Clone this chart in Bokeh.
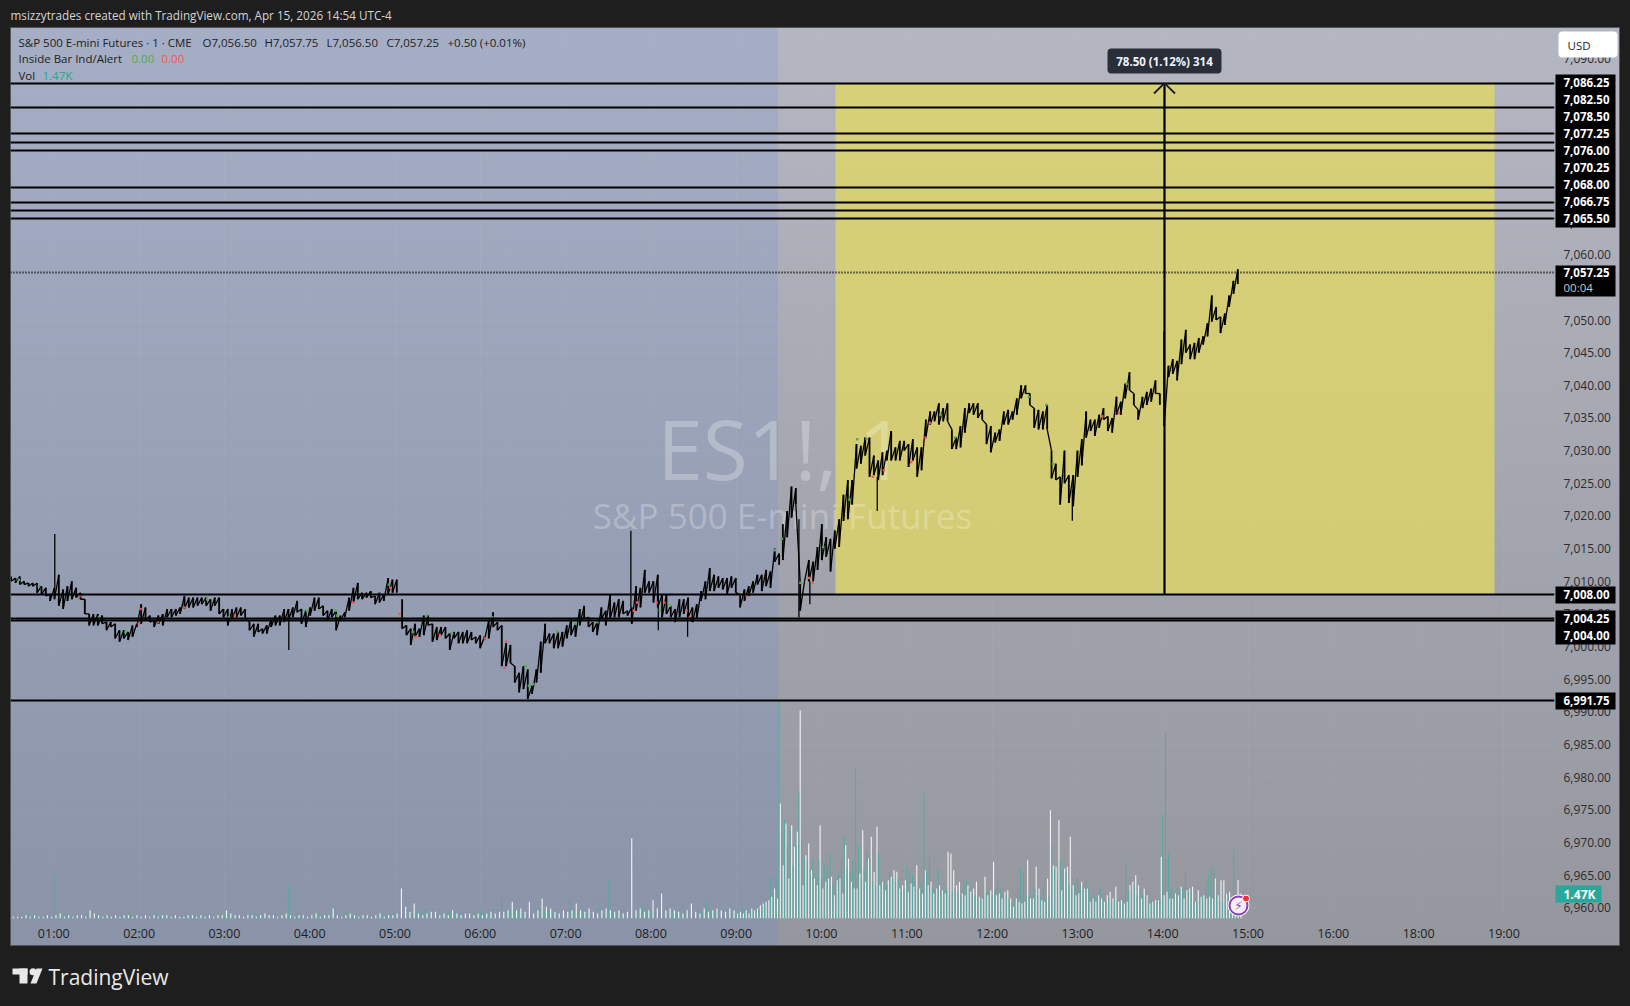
from bokeh.plotting import figure
from bokeh.embed import file_html
from bokeh.resources import INLINE
from bokeh.core.properties import value
from bokeh.models import FixedTicker, NumeralTickFormatter, Range1d

# ---------- price data, sampled every ~3 minutes, four stretches ----------
seg1_start, seg2_start, seg3_start, seg4_start = 30.0, 305.0, 572.8, 841.0
seg1_high = [7010.75,7010.5,7010.75,7010,7009.75,7009.75,7009.75,7009.25,7009,7008,7009,7011,7008.75,7009.25,7010,7009,7008.25,7007.25,7005,7005,7005,7004.75,7003.75,7003.75,7003.5,7002.5,7002.5,7002.25,7003.25,7003.5,7006.5,7006,7004.75,7004,7004.75,7005,7005.75,7005.75,7005.75,7006,7007.75,7007.5,7007.5,7007.5,7007.5,7007.5,7007.25,7007.5,7007.5,7005.75,7005.75,7005.75,7006,7006,7005.75,7003.75,7003.5,7003.5,7002.75,7003.25,7004.25,7004.75,7004.75,7005.75,7005.75,7006,7007,7005.75,7005.5,7006,7007.5,7007.5,7006.25,7005.5,7005.75,7005.5,7004.75,7005.25,7007.5,7009,7009.75,7008.25,7008.25,7008.5,7007.75,7008.25,7008,7010.5,7010.25,7010.25]
seg1_low = [7010,7009.75,7009.5,7009.5,7009.25,7009.25,7008.25,7008,7007.75,7007,7007.25,7006.25,7005.75,7007,7007.25,7007.5,7007.25,7005,7003.25,7003.25,7003.25,7003.5,7002.5,7003,7001.25,7000.75,7001.25,7001,7001.5,7003,7003.5,7004,7003.75,7003,7003.5,7003.25,7004.5,7004.5,7004.75,7005,7005.75,7006,7006,7006.25,7006.5,7006.25,7005.5,7006.25,7005,7004.5,7003.25,7004.25,7004.5,7004.75,7004.5,7002.5,7001.5,7002.25,7002,7002,7003,7003.25,7003.25,7003.75,7004,7004.5,7005.25,7003.5,7003,7004.75,7005.5,7005.75,7004.75,7004,7004.5,7002.5,7004,7004.5,7005.5,7006.75,7007.25,7007.25,7007.5,7007.5,7006.5,7006.75,7007,7008,7008.25,7008.25]
seg2_high = [7007.25,7003.25,7002.75,7003.5,7002.75,7004.75,7004.75,7003.5,7003,7003,7003,7002,7002.25,7002.25,7002.25,7002.5,7002.25,7001.5,7001.75,7001.5,7004,7005.25,7003.75,7003.25,7000.5,7000.25,6997,6996,6997,6996.5,6994,6996.5,7000.75,7003.5,7002,7002,7002.25,7002.25,7003.25,7004.25,7003.5,7005.75,7006.25,7004.5,7003.75,7003.75,7006,7005.5,7008,7006.75,7007.25,7007,7005.5,7006,7009.25,7009,7011.75,7010,7010,7011,7008,7008,7006.25,7005.75,7007.25,7007.25,7007.5,7006,7006.5,7008.5,7010,7012,7011,7010.75,7010.5,7010.5,7010.75,7010.5,7008,7008.75,7009.25,7010,7011,7011,7011.75,7011.5,7015,7014.25]
seg2_low = [7002.75,7001.75,7000.25,7001.5,7001.5,7001.75,7003.25,7000.75,7001,7001.75,7001.25,6999.5,7001.25,7000.5,7000.5,7000.5,7001,7000.5,6999.75,7001,7001.25,7003,7002.5,6997,6997,6997.5,6994.5,6993,6993.5,6992,6992.75,6994.5,6996,7000.5,7000.5,6999.75,6999.75,7000,7001.25,7001.75,7001.5,7003.25,7004.25,7003,7002.25,7001.75,7004.25,7003.25,7004.25,7004.5,7004.5,7005,7004.75,7003.5,7005.5,7006,7008.25,7008.25,7006.75,7006,7004.5,7005,7004.5,7003.75,7004.5,7005,7004.5,7003.75,7004.25,7007,7007.25,7008.5,7008.5,7009,7008.75,7008,7009,7008.25,7006,7007,7007.75,7008.25,7009.5,7008.5,7009.25,7009,7013,7012.5]
seg3_high = [7018.75,7020.75,7024.5,7024.25,7010,7010,7013.25,7013,7015.25,7018.75,7016.75,7016.5,7017.75,7019.5,7023.25,7025.5,7025.5,7031,7030.75,7032,7032,7029.25,7028.5,7029.75,7030,7033,7030.5,7031.5,7031.5,7031,7031.75,7030.5,7030.5,7034.75,7036,7036,7037.25,7036.5,7037.25,7033.25,7032,7033.75,7036.5,7037.25,7037.25,7037.25,7036.25,7034,7033.75,7032.75,7033.25,7036,7036.25,7036,7038,7040,7040,7038.75,7036.5,7036.25,7036,7037,7030,7028,7026,7030,7026.25,7026.25,7030,7031.75,7036,7034.75,7034.75,7035.5,7036.5,7035.25,7035,7038.25,7037.5,7040.25,7042,7038.75,7036.25,7038.25,7039,7039.5,7040.75,7038.75]
seg3_low = [7013.25,7016.75,7019.75,7021.75,7005.5,7010,7010,7010,7011.75,7013.25,7013.75,7011.5,7015,7015.25,7019.25,7019.5,7021.75,7027.25,7028,7029.25,7026,7026.25,7025.5,7026.25,7028.5,7028.5,7028.5,7028.5,7030,7027.5,7028.5,7026,7027,7032,7034,7034.5,7034,7034.5,7034.5,7030.25,7030.25,7030.5,7032.75,7035.75,7035.5,7035,7034.75,7031,7029.75,7031.25,7031.5,7034,7034,7034.75,7035.5,7038,7038.75,7037,7033.5,7033.25,7033.25,7033.25,7025.75,7025.5,7021.75,7025,7022,7021.5,7026,7027.75,7032,7033,7032.25,7033.5,7034.75,7033,7032.75,7035.5,7035.5,7038,7039.25,7037,7034.75,7036.5,7037,7037.5,7038.75,7037]
seg4_high = [7048.25,7043,7044,7043.75,7047,7048.5,7046.25,7046.5,7047.25,7047.5,7049.5,7053.75,7052,7050.5,7051,7053.75,7056,7057.75]
seg4_low = [7033.75,7041.25,7041.75,7040.75,7043.25,7045,7044,7044,7045,7046.25,7047.5,7049.75,7050,7048,7049.25,7052,7054,7055.5]

# lone wicks: minute, high, low
wick_min = [60.7, 225.3, 465.9, 485.2, 505.8, 584.1, 591.8, 639.2, 776.4]
wick_high = [7017.25, 7005, 7017.75, 7008, 7005, 7019.5, 7010, 7026, 7024]
wick_low = [7009, 6999.5, 7006, 7002.5, 7001.5, 7004.5, 7006.5, 7020.75, 7019.25]

# inside-bar indicator marks
green_min = [35.4,49.5,91.7,110.4,167.9,183.1,213.6,238.2,258.2,259.3,295.7,312.6,322.2,340.2,368.4,414.1,423,427,391.8,394.2,397,442.3,486.3,493.4,542.6,567.2,572,585.2,601.2,619.7,625.1,631.7,683.7,693.8,745.9,758.1,762.8,814.6]
green_price = [7010.25,7009.25,7004.5,7002.25,7007.25,7004.5,7004.25,7005.5,7005.5,7004.75,7009.5,7002.25,7004.75,7002,7004.5,7002.25,7004.25,7003.5,6997,6994,6994.25,7003.75,7005.5,7006.25,7008,7014.75,7016.5,7009.75,7015.25,7022.5,7031.75,7031.75,7035.5,7032,7038.25,7037,7028,7040.25]
red_min = [78.1,121,119.8,133.4,151.9,187.4,270.6,296.9,303.2,314.5,331.6,363.2,378.2,377.1,468,470.4,484,489.2,504.9,507.5,547.3,591.1,593.9,636.1,643.9,663.1,673.2,676.2,797.5,809.2]
red_price = [7007.75,7005.75,7003.5,7003.75,7006,7004.75,7006.75,7009,7005,7001.5,7001.75,7001.25,7000.75,6996.75,7005.5,7006.75,7006.75,7006.75,7005.5,7004.5,7007.75,7010.5,7009.75,7026,7027,7028.25,7032,7034.25,7035.25,7035.75]

# ---------- levels ----------
levels_thin = [7086.25,7082.5,7078.5,7077.25,7076,7070.25,7068,7066.75,7065.5,7008,6991.75]
levels_thick = [7004.25,7004]
last_price = 7057.25

# ---------- volume, in hundreds of contracts ----------
vol_teal_early = [1,1,2,1,2,1,2,2,1,2,30,3,2,2,1,2,1,2,3,2,2,1,2,2,1,2,1,2,3,2,1,2,2,1,2,1,2,2,1,2,2,1,2,1,2,2,3,2,1,2,2,3,2,1,2,3,2,1,2,2,2,1,3,2,2,21,2,3,2,1,2,2,3,2,2,3,8,2,3,4,2,2,1,2,1,2,2,3,2,2,3,4,3,5,3,4,3,5,4,3,2,3,2,4,3,2,3,2,4,3,5,3,4,6,5,15,5,4,6,5,4,3,5,7,6,4,5,4,3,4,5,11,4,3,5,4,3,5,11,5,23,4,3,5,4,3,2,5,8,6,5,4,6,5,4,5,3,4,5,4,3,5,4,11,5,4,6,5,4,6]
vol_white_early = [1,1,1,2,1,2,1,1,2,1,2,3,1,2,1,2,2,1,5,3,2,1,2,1,2,1,2,2,1,2,1,2,1,2,1,2,2,1,2,1,1,2,2,1,2,1,2,1,2,2,5,3,2,2,1,2,2,1,2,3,2,2,1,2,3,2,1,2,2,1,2,3,1,2,2,6,2,1,2,3,2,1,2,2,1,2,3,1,2,2,3,18,7,4,9,3,2,3,4,4,2,3,2,5,3,2,3,3,2,3,2,3,4,3,4,4,5,10,5,6,4,10,3,5,12,7,6,4,3,5,4,5,9,5,4,6,4,3,5,6,5,4,5,3,4,48,5,6,4,5,11,6,15,5,6,5,4,3,5,9,4,3,6,4,5,6,5,4,6,5]
vol_teal_active = [3,4,9,5,4,4,7,6,5,7,9,10,25,15,25,131,53,59,43,54,32,44,76,47,36,35,29,35,25,35,24,32,34,39,21,24,27,36,49,30,28,35,90,44,24,30,39,36,22,20,39,22,22,20,28,24,22,24,17,18,31,27,26,20,18,22,75,28,37,18,18,30,17,17,18,14,16,18,16,14,23,23,18,15,14,14,12,14,16,18,14,18,23,18,18,14,12,10,12,18,30,28,14,14,12,18,14,13,18,12,14,43,30,24,35,30,28,20,18,20,25,20,18,22,18,13,14,10,19,12,10,12,10,11,10,9,12,34,17,16,20,14,18,14,18,10,11,10,10,12,62,112,39,18,14,19,18,19,29,16,18,10,10,14,13,18,26,31,31,14,10,10,15,15,12,42,10,8]
vol_white_active = [3,4,3,5,3,6,5,6,8,9,10,11,13,18,12,69,32,57,24,56,43,52,125,20,38,45,29,24,20,56,18,22,24,25,14,23,24,15,44,36,22,18,18,27,53,22,36,49,28,55,20,22,17,23,25,29,28,18,20,23,16,21,19,32,18,15,29,20,22,15,18,20,17,15,40,39,29,20,22,15,14,20,16,18,22,13,12,25,14,17,34,14,15,12,16,17,12,7,12,10,9,10,35,12,12,31,18,11,10,24,65,32,31,59,17,30,31,49,20,14,15,22,18,18,10,12,10,14,12,10,14,16,12,19,10,11,9,10,20,22,26,20,12,18,14,9,10,11,11,37,14,16,12,12,15,14,19,12,17,18,19,10,17,13,14,12,13,12,24,14,23,23,15,16,11,12,23,15]

price_ticks = list(range(6960, 7095, 5))
hour_ticks = [60,120,180,240,300,360,420,480,540,600,660,720,780,840,900,960,1020,1080]
hour_labels = ["01:00","02:00","03:00","04:00","05:00","06:00","07:00","08:00","09:00","10:00","11:00","12:00","13:00","14:00","15:00","16:00","18:00","19:00"]
stack_labels = ["7,086.25","7,082.50","7,078.50","7,077.25","7,076.00","7,070.25","7,068.00","7,066.75","7,065.50","7,057.25","7,008.00","7,004.25","7,004.00","6,991.75"]
stack_rows = [82,99,116,133,150,167,184,201,218,272,594,618,635,700]

# ---------- page geometry ----------
W, H = 1630, 1006
XL, XR, YT, YB = 10, 1554, 27, 918
def X(px): return 60 + (px - 53.3) / 1.4217
def Y(py): return 6991.75 - (py - 700) / 6.532
FONT = "Open Sans"

p = figure(width=W, height=H, output_backend="svg", toolbar_location=None,
           x_range=Range1d(X(XL), X(XR)), y_range=Range1d(Y(YB), Y(YT)),
           x_axis_location="below", y_axis_location="right",
           min_border_left=XL, min_border_right=W-XR, min_border_top=YT, min_border_bottom=H-YB)
p.border_fill_color = None
p.background_fill_color = None
p.outline_line_color = None
p.styles = {"background":
    "linear-gradient(rgb(165,174,196),rgb(138,147,168)) 11px 28px/767px 917px no-repeat,"
    "linear-gradient(rgb(180,182,193),rgb(149,151,159)) 778px 28px/841px 917px no-repeat,"
    "linear-gradient(#54565c,#54565c) 10px 27px/1610px 919px no-repeat,#1e1e1e"}

p.extra_y_ranges = {"vol": Range1d(0, (YB - YT) / 1.667)}

xa = p.below[0]
xa.ticker = FixedTicker(ticks=hour_ticks)
xa.major_label_overrides = dict(zip(hour_ticks, hour_labels))
xa.axis_line_color = None
xa.major_tick_line_color = None
xa.minor_tick_line_color = None
xa.major_label_text_font = FONT
xa.major_label_text_font_size = "12.5px"
xa.major_label_text_color = "#1e1e1e"
xa.major_label_standoff = 0

ya = p.right[0]
ya.ticker = FixedTicker(ticks=price_ticks)
ya.formatter = NumeralTickFormatter(format="0,0.00")
ya.axis_line_color = None
ya.major_tick_line_color = None
ya.minor_tick_line_color = None
ya.major_label_text_font = FONT
ya.major_label_text_font_size = "12px"
ya.major_label_text_color = "#2a2c30"
ya.major_label_standoff = 3

p.xgrid.ticker = FixedTicker(ticks=hour_ticks)
p.ygrid.ticker = FixedTicker(ticks=price_ticks)
for g in (p.xgrid[0], p.ygrid[0]):
    g.grid_line_color = "#ffffff"
    g.grid_line_alpha = 0.035

# yellow zone
p.quad(left=[X(835)], right=[X(1494)], top=[levels_thin[0]], bottom=[7008],
       fill_color="#e3d961", fill_alpha=0.75, line_color=None)

# watermark
p.text(x=[X(781)], y=[Y(447)], text=["ES1!, 1"], text_align="center", text_baseline="middle",
       text_font=value(FONT), text_font_size="82px", text_color="#ffffff", text_alpha=0.27)
p.text(x=[X(782)], y=[Y(515)], text=["S&P 500 E-mini Futures"], text_align="center", text_baseline="middle",
       text_font=value(FONT), text_font_size="35px", text_color="#ffffff", text_alpha=0.27)

# volume
teal_min = [30 + 3*i for i in range(len(vol_teal_early))] + [540 + 2*i for i in range(len(vol_teal_active))]
white_min = [31.5 + 3*i for i in range(len(vol_white_early))] + [541 + 2*i for i in range(len(vol_white_active))]
p.vbar(x=white_min, top=vol_white_early + vol_white_active, bottom=0, width=0.8, y_range_name="vol",
       fill_color="#f2f2f2", line_color=None)
p.vbar(x=teal_min, top=vol_teal_early + vol_teal_active, bottom=0, width=0.7, y_range_name="vol",
       fill_color="#55aaa2", line_color=None)

# price bars: each sample is a bar, and a thin stroke ties each bar's low to the next bar's high
STEP = 3.048
for start, hi, lo in ((seg1_start, seg1_high, seg1_low), (seg2_start, seg2_high, seg2_low),
                      (seg3_start, seg3_high, seg3_low), (seg4_start, seg4_high, seg4_low)):
    xs = [start + STEP*i for i in range(len(hi))]
    p.vbar(x=xs, top=hi, bottom=lo, width=1.3, fill_color="#000000", line_color=None)
    p.segment(x0=xs[:-1], y0=lo[:-1], x1=xs[1:], y1=hi[1:], line_color="#000000", line_width=1.3)
p.vbar(x=wick_min, top=wick_high, bottom=wick_low, width=0.9, fill_color="#000000", line_color=None)
p.scatter(x=green_min, y=green_price, size=2.5, marker="square", fill_color="#4caf50", line_color=None)
p.scatter(x=red_min, y=red_price, size=2.5, marker="square", fill_color="#ff5252", line_color=None)

# levels
p.hspan(y=levels_thin, line_color="#000000", line_width=1.9)
p.hspan(y=levels_thick, line_color="#000000", line_width=2.2)
p.hspan(y=[last_price], line_color="#000000", line_width=1.8, line_dash="1 2")

# measure arrow
ax = X(1164)
p.segment(x0=[ax], y0=[7008], x1=[ax], y1=[levels_thin[0]], line_color="#000000", line_width=2.2)
p.segment(x0=[X(1153.5), X(1174.5)], y0=[Y(93), Y(93)], x1=[ax, ax], y1=[levels_thin[0], levels_thin[0]],
          line_color="#1a1a1a", line_width=1.8)

# ---------- overlay figure in page pixels for everything outside the plot frame ----------
o = figure(width=W, height=H, output_backend="svg", toolbar_location=None,
           x_range=Range1d(0, W), y_range=Range1d(H, 0), x_axis_location=None, y_axis_location=None,
           min_border=0)
o.border_fill_color = None
o.background_fill_color = None
o.outline_line_color = None
o.grid.visible = False
o.styles = {"position": "absolute", "left": "0px", "top": "0px", "pointer-events": "none"}

def box(l, r, t, b, color, radius=0):
    o.quad(left=[l], right=[r], top=[t], bottom=[b], fill_color=color, line_color=None, border_radius=radius)
def txt(s, px, py, color, size, bold=False, align="left", font=FONT):
    o.text(x=[px], y=[py], text=[s], text_color=color, text_font=value(font), text_font_size=size,
           text_font_style="bold" if bold else "normal", text_align=align, text_baseline="middle")

# bolt badge
o.scatter(x=[1238], y=[905], size=21, fill_color="#ffffff", line_color="#ffffff", line_width=1)
o.scatter(x=[1238], y=[905], size=18, fill_color="#f4eef7", line_color="#8e3fb5", line_width=2)
txt("\u26a1", 1238, 905, "#8e3fb5", "12px", align="center", font="DejaVu Sans")
o.scatter(x=[1245.5], y=[898], size=7, fill_color="#ff2b3a", line_color="#ffffff", line_width=1)

# price tags
box(1555, 1615, 74, 227, "#000000")
box(1555, 1615, 265, 296, "#000000")
box(1555, 1615, 586, 603, "#000000")
box(1555, 1615, 610, 644, "#000000")
box(1555, 1615, 692, 709, "#000000")
for s, row in zip(stack_labels, stack_rows):
    txt(s, 1563, row, "#ffffff", "11.5px", bold=True)
txt("00:04", 1563, 287, "#c8c8c8", "11.5px")
box(1555, 1601, 885, 902, "#29a79b")
txt("1.47K", 1563, 893.5, "#ffffff", "12px", bold=True)
box(1558, 1617, 31, 57, "#ffffff", radius=4)
txt("USD", 1567, 45, "#1e1e1e", "11.5px")

# measure tooltip
box(1107, 1221, 48, 73, "#2a2e39", radius=4)
txt("78.50 (1.12%) 314", 1164, 60.5, "#f0f3fa", "11.5px", bold=True, align="center")

# header and legend
txt("msizzytrades created with TradingView.com, Apr 15, 2026 14:54 UTC-4", 10, 14.5, "#d4d4d4", "11.7px")
txt("S&P 500 E-mini Futures \u00b7 1 \u00b7 CME", 18, 41.5, "#1e1e1e", "11.5px")
txt("O7,056.50", 202, 41.5, "#1e1e1e", "11.5px")
txt("H7,057.75", 264, 41.5, "#1e1e1e", "11.5px")
txt("L7,056.50", 326, 41.5, "#1e1e1e", "11.5px")
txt("C7,057.25", 386, 41.5, "#1e1e1e", "11.5px")
txt("+0.50 (+0.01%)", 447, 41.5, "#1e1e1e", "11.5px")
txt("Inside Bar Ind/Alert", 18, 58, "#1e1e1e", "11.5px")
txt("0.00", 131, 58, "#4caf50", "11.5px")
txt("0.00", 161, 58, "#ff5252", "11.5px")
txt("Vol", 18, 75, "#1e1e1e", "11.5px")
txt("1.47K", 42, 75, "#26a69a", "11.5px")

# TradingView mark
box(12, 27, 968, 974, "#e8e8e8")
box(19, 27, 968, 983, "#e8e8e8")
o.scatter(x=[32.5], y=[971.3], size=7, fill_color="#e8e8e8", line_color=None)
o.patch(x=[36, 42, 36, 30], y=[968, 968, 983, 983], fill_color="#e8e8e8", line_color=None)
txt("TradingView", 48, 976, "#e8e8e8", "21px")

html = file_html([p, o], INLINE)
html = html.replace("<head>", "<head><style>html,body{background:#1e1e1e;overflow:hidden}</style>", 1)
open("out.html", "w").write(html)
